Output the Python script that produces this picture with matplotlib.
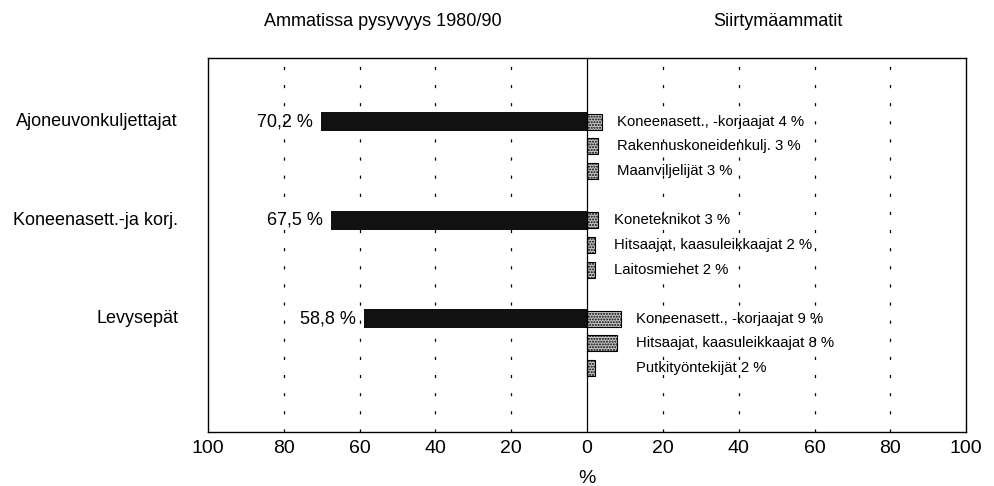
import numpy as np
from matplotlib import pyplot as plt

plt.rcParams['font.family'] = ['Liberation Sans', 'DejaVu Sans']
plt.rcParams['hatch.color'] = '#777777'

# data
ammatit = ['Ajoneuvonkuljettajat', 'Koneenasett.-ja korj.', 'Levysepät']
pysyvyys = [70.2, 67.5, 58.8]
pysyvyys_txt = ['70,2 %', '67,5 %', '58,8 %']

siirto_nimet = [
    ['Koneenasett., -korjaajat 4 %', 'Rakennuskoneidenkulj. 3 %', 'Maanviljelijät 3 %'],
    ['Koneteknikot 3 %', 'Hitsaajat, kaasuleikkaajat 2 %', 'Laitosmiehet 2 %'],
    ['Koneenasett., -korjaajat 9 %', 'Hitsaajat, kaasuleikkaajat 8 %', 'Putkityöntekijät 2 %'],
]
siirto_arvot = [[4, 3, 3], [3, 2, 2], [9, 8, 2]]

xticks = [-100, -80, -60, -40, -20, 0, 20, 40, 60, 80, 100]

fig = plt.figure(figsize=(9.95, 4.86), dpi=100)
ax = fig.add_axes([0.209, 0.111, 0.762, 0.770])

# grid (dotted vertical lines)
for x in xticks[1:-1]:
    if x == 0:
        continue
    ax.axvline(x, color='black', lw=0.9, linestyle=(0, (2.5, 12)), zorder=0)
ax.axvline(0, color='black', lw=0.9, zorder=3)

for i in range(3):
    row = 2 + 4 * i
    # left bar
    ax.barh(row, -pysyvyys[i], height=0.78, color='#111111', zorder=2)
    ax.annotate(pysyvyys_txt[i], xy=(-pysyvyys[i], row), xytext=(-6, 0),
                textcoords='offset points', ha='right', va='center', fontsize=13)
    # category label
    ax.annotate(ammatit[i], xy=(0, row), xycoords=('figure fraction', 'data'),
                xytext=(178, 0), textcoords='offset pixels',
                ha='right', va='center', fontsize=13)
    # right bars
    mx = max(siirto_arvot[i])
    for j in range(3):
        r = row + j
        ax.barh(r, siirto_arvot[i][j], height=0.65, color='#c8c8c8',
                edgecolor='black', lw=0.8, hatch='......', zorder=2)
        ax.annotate(siirto_nimet[i][j], xy=(mx, r), xytext=(11, 0),
                    textcoords='offset points', ha='left', va='center', fontsize=10.7)

ax.set_xlim(-100, 100)
ax.set_ylim(14.6, -0.6)
ax.set_xticks(xticks)
ax.set_xticklabels([str(abs(x)) for x in xticks], fontsize=14)
ax.set_yticks([])
ax.tick_params(axis='x', length=0, pad=6)
ax.set_xlabel('%', fontsize=14, labelpad=9)
for s in ax.spines.values():
    s.set_linewidth(1.0)

fig.text(383 / 995, 1 - 22 / 486, 'Ammatissa pysyvyys 1980/90', ha='center', va='center', fontsize=13)
fig.text(778 / 995, 1 - 22 / 486, 'Siirtymäammatit', ha='center', va='center', fontsize=13)

fig.savefig('out.png', dpi=100)
